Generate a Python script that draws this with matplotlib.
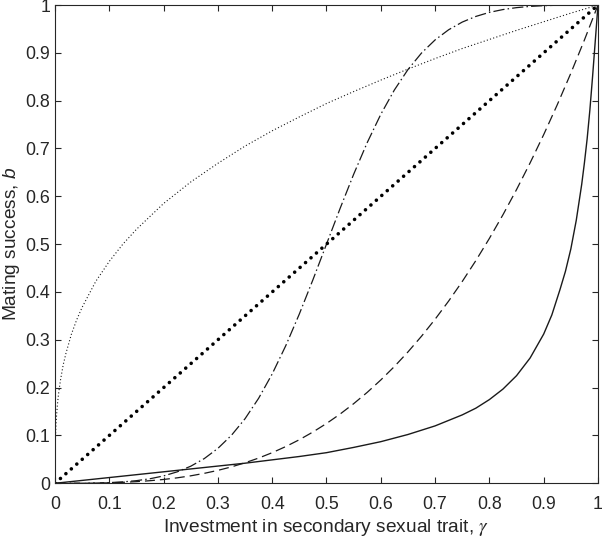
import matplotlib
matplotlib.use("Agg")
import matplotlib.pyplot as plt

plt.rcParams['font.family'] = ['Liberation Sans', 'DejaVu Sans']
plt.rcParams['mathtext.fontset'] = 'custom'
plt.rcParams['mathtext.it'] = 'Liberation Sans:italic'
plt.rcParams['mathtext.rm'] = 'Liberation Sans'

# ---- data ----
x_solid = [0, 0.05, 0.1, 0.15, 0.2, 0.25, 0.3, 0.35, 0.4, 0.45, 0.5, 0.55, 0.6,
           0.65, 0.7, 0.75, 0.775, 0.8, 0.825, 0.85, 0.875, 0.9, 0.915, 0.93, 0.94,
           0.95, 0.96, 0.97, 0.975, 0.98, 0.985, 0.99, 0.995, 1.0]
y_solid = [0, 0.006, 0.012, 0.018, 0.024, 0.030, 0.036, 0.042, 0.049, 0.056, 0.064,
           0.075, 0.087, 0.102, 0.120, 0.143, 0.157, 0.175, 0.197, 0.225, 0.262,
           0.312, 0.352, 0.405, 0.443, 0.49, 0.55, 0.625, 0.67, 0.72, 0.78, 0.85,
           0.925, 1.0]

x_dashed = [0, 0.025, 0.05, 0.075, 0.1, 0.125, 0.15, 0.175, 0.2, 0.225, 0.25, 0.275,
            0.3, 0.325, 0.35, 0.375, 0.4, 0.425, 0.45, 0.475, 0.5, 0.525, 0.55,
            0.575, 0.6, 0.625, 0.65, 0.675, 0.7, 0.725, 0.75, 0.775, 0.8, 0.825,
            0.85, 0.875, 0.9, 0.925, 0.95, 0.975, 1.0]
y_dashed = [0, 0.00002, 0.0001, 0.0004, 0.001, 0.002, 0.0034, 0.0054, 0.008, 0.0114,
            0.0156, 0.0208, 0.027, 0.0343, 0.0429, 0.0527, 0.064, 0.0768, 0.0911,
            0.1072, 0.125, 0.1447, 0.1664, 0.1901, 0.216, 0.2441, 0.2746, 0.3075,
            0.343, 0.3811, 0.4219, 0.4655, 0.512, 0.5615, 0.6141, 0.6699, 0.729,
            0.7915, 0.8574, 0.9269, 1.0]

x_dashdot = [0, 0.025, 0.05, 0.075, 0.1, 0.125, 0.15, 0.175, 0.2, 0.225, 0.25,
             0.275, 0.3, 0.325, 0.35, 0.375, 0.4, 0.425, 0.45, 0.475, 0.5, 0.525,
             0.55, 0.575, 0.6, 0.625, 0.65, 0.675, 0.7, 0.725, 0.75, 0.775, 0.8,
             0.825, 0.85, 0.875, 0.9, 0.925, 0.95, 0.975, 1.0]
y_dashdot = [0, 0.00002, 0.0001, 0.0005, 0.0014, 0.0029, 0.0055, 0.0095, 0.0154,
             0.0239, 0.0357, 0.0517, 0.073, 0.1004, 0.135, 0.1777, 0.2286, 0.2877,
             0.354, 0.4255, 0.5, 0.5745, 0.646, 0.7123, 0.7714, 0.8223, 0.865,
             0.8996, 0.927, 0.9483, 0.9643, 0.9761, 0.9846, 0.9905, 0.9945, 0.9971,
             0.9986, 0.9995, 0.9999, 1.0, 1.0]

x_dotted = [0, 0.0001, 0.0003, 0.001, 0.002, 0.003, 0.005, 0.007, 0.01, 0.015, 0.02,
            0.03, 0.04, 0.05, 0.075, 0.1, 0.125, 0.15, 0.2, 0.25, 0.3, 0.35, 0.4,
            0.45, 0.5, 0.55, 0.6, 0.65, 0.7, 0.75, 0.8, 0.85, 0.9, 0.95, 1.0]
y_dotted = [0, 0.046, 0.067, 0.10, 0.126, 0.144, 0.171, 0.191, 0.215, 0.247, 0.271,
            0.311, 0.342, 0.368, 0.422, 0.464, 0.5, 0.531, 0.585, 0.630, 0.669,
            0.705, 0.737, 0.766, 0.794, 0.819, 0.843, 0.866, 0.888, 0.909, 0.928,
            0.947, 0.965, 0.983, 1.0]

x_linear = [0, 1]
y_linear = [0, 1]

ticks = [0, 0.1, 0.2, 0.3, 0.4, 0.5, 0.6, 0.7, 0.8, 0.9, 1]
tick_labels = ['0', '0.1', '0.2', '0.3', '0.4', '0.5', '0.6', '0.7', '0.8', '0.9', '1']

# ---- figure ----
fig = plt.figure(figsize=(6.03, 5.38), dpi=100)
ax = fig.add_axes([0.0912, 0.1017, 0.9005, 0.889])

lc = '#1a1a1a'
ax.plot(x_solid, y_solid, color=lc, lw=1.0, solid_joinstyle='round')
ax.plot(x_dashed, y_dashed, color=lc, lw=0.9, dashes=(8, 4))
ax.plot(x_dashdot, y_dashdot, color=lc, lw=0.9, dashes=(9, 2.5, 1.2, 2.5))
ax.plot(x_dotted, y_dotted, color=lc, lw=0.8, dashes=(1, 2))
ax.plot(x_linear, y_linear, color='black', lw=2.6, dashes=(0.01, 2.0),
        dash_capstyle='round')

ax.set_xlim(0, 1)
ax.set_ylim(0, 1)
ax.set_xticks(ticks)
ax.set_xticklabels(tick_labels)
ax.set_yticks(ticks)
ax.set_yticklabels(tick_labels)

axc = '#262626'
for s in ax.spines.values():
    s.set_color(axc)
    s.set_linewidth(0.8)
ax.tick_params(direction='in', top=True, right=True, length=4, width=0.8,
               color=axc, labelcolor=axc, labelsize=12.8)
ax.tick_params(axis='x', pad=9)
ax.tick_params(axis='y', pad=3.5)

ax.set_xlabel('Investment in secondary sexual trait, $\\gamma$', fontsize=13.8,
              color=axc, math_fontfamily='stix')
ax.set_ylabel('Mating success, $b$', fontsize=13.8, color=axc)
ax.xaxis.label.set_va('baseline')
ax.xaxis.set_label_coords(0.5, (483.3 - 531.7) / 478)
ax.yaxis.label.set_va('baseline')
ax.yaxis.set_label_coords((16 - 55) / 543, 0.5)

fig.savefig('out.png', dpi=100)
